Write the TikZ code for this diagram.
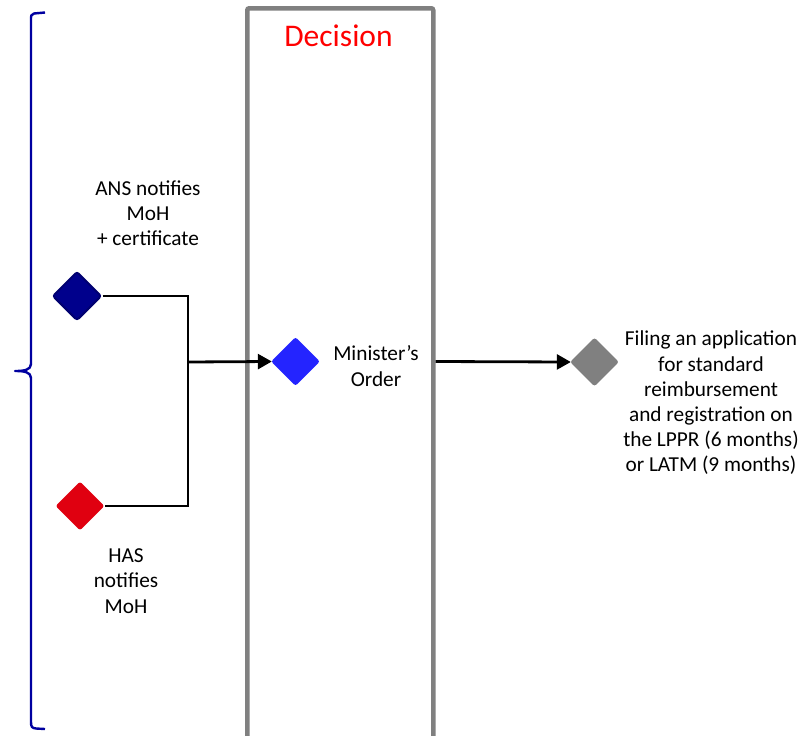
\documentclass[tikz,border=0pt]{standalone}
\usepackage{fontspec}
\setmainfont{Carlito}
\usetikzlibrary{shapes.geometric,arrows.meta}
\definecolor{navyd}{HTML}{00008C}
\definecolor{navyb}{HTML}{000070}
\definecolor{redd}{HTML}{E00010}
\definecolor{blued}{HTML}{2424FF}
\definecolor{grayd}{HTML}{808080}
\definecolor{braceblue}{HTML}{0000A0}
\tikzset{
  dia/.style={diamond, aspect=1, inner sep=0pt, minimum width=49pt, minimum height=49pt, rounded corners=2.5pt},
  lbl/.style={align=center, font=\fontsize{21.3}{25.2}\selectfont, inner sep=0pt},
  conn/.style={line width=2.8pt, black},
  arr/.style={conn, -{Triangle[length=14pt,width=15pt]}, shorten >=-1pt}
}
\begin{document}
\begin{tikzpicture}[x=1pt,y=-1pt]
\useasboundingbox (0,0) rectangle (811,736);
% brace
\draw[braceblue, line width=2.4pt, line join=round]
  (45,12.5) -- (34,13.5) .. controls (31,14) and (31,16) .. (31,20)
  -- (31,364) .. controls (31,370) and (24,371) .. (15,371)
  .. controls (24,371) and (31,372) .. (31,378)
  -- (31,722) .. controls (31,727) and (32,728) .. (36,728.5) -- (45,729);
% decision box
\node[draw=grayd, line width=4.5pt, rounded corners=2pt, minimum width=186pt, minimum height=760pt, inner sep=0pt, anchor=north west] (box) at (245,6) {};
\node[text=red, font=\fontsize{31.5}{36}\selectfont, inner sep=0pt] (dec) at (338.5,36) {Decision};
% diamonds
\node[dia, fill=navyd, draw=navyb, line width=2pt] (ans) at (77,296) {};
\node[dia, fill=redd] (has) at (80,506) {};
\node[dia, fill=blued] (min) at (295.5,361.5) {};
\node[dia, fill=grayd] (fil) at (594.5,362) {};
% labels
\node[lbl] (ansl) at (148,213) {ANS notifies\\MoH\\+ certificate};
\node[lbl] (hasl) at (126,581) {HAS\\notifies\\MoH};
\node[lbl] (minl) at (376,366) {Minister’s\\Order};
\node[lbl] (fill) at (711,403) {Filing an application\\for standard\\reimbursement\\and registration on\\the LPPR (6 months)\\or LATM (9 months)};
% connectors
\coordinate (j) at (188,362);
\draw[conn, line join=miter] (ans.east) -| (j) |- (has.east);
\draw[arr] (j) -- (min.west);
\draw[arr] (box.east |- min) -- (fil.west);
\end{tikzpicture}
\end{document}
